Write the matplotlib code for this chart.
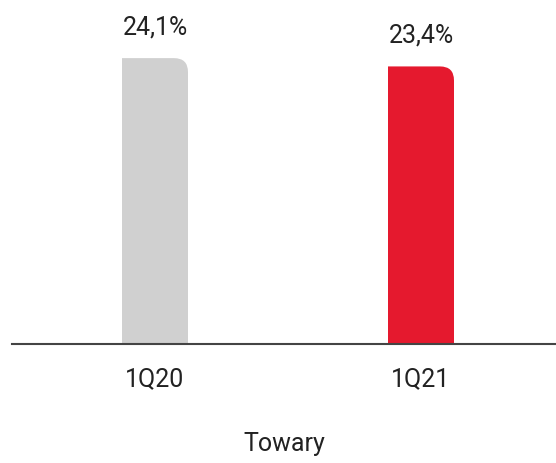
import matplotlib
matplotlib.use("Agg")
import matplotlib.pyplot as plt
from matplotlib.path import Path
from matplotlib.patches import PathPatch

categories = ["1Q20", "1Q21"]
values = [24.1, 23.4]
labels = ["24,1%", "23,4%"]
colors = ["#d0d0d0", "#e5192e"]
xlabel = "Towary"

plt.rcParams['font.family'] = ['Roboto', 'DejaVu Sans']

W, H = 556, 463
fig = plt.figure(figsize=(W/100, H/100), dpi=100)
ax = fig.add_axes([12/W, 119/H, 544/W, 344/H])

px_x = 266.0
ax.set_xlim(-143/px_x, (544-143)/px_x)
ax.set_ylim(0, 29)
px_y = 344/29

width = 66/px_x
r = 14
rx, ry = r/px_x, r/px_y
for i, (v, c) in enumerate(zip(values, colors)):
    x0, x1 = i - width/2, i + width/2
    verts = [(x0, 0), (x1, 0), (x1, v - ry), (x1, v), (x1 - rx, v), (x0, v), (x0, 0)]
    codes = [Path.MOVETO, Path.LINETO, Path.LINETO, Path.CURVE3, Path.CURVE3, Path.LINETO, Path.CLOSEPOLY]
    ax.add_patch(PathPatch(Path(verts, codes), facecolor=c, edgecolor='none'))
    ax.annotate(labels[i], (i, v), xytext=(0, 22), textcoords='offset points',
                ha='center', va='center', fontsize=18, color='#222222')

for s in ['top', 'right', 'left']:
    ax.spines[s].set_visible(False)
ax.spines['bottom'].set_color('#444444')
ax.spines['bottom'].set_linewidth(1.5)
ax.set_yticks([])
ax.set_xticks(range(len(categories)))
ax.set_xticklabels(categories, fontsize=18, color='#222222')
ax.tick_params(axis='x', length=0, pad=17)
ax.set_xlabel(xlabel, fontsize=18, color='#222222', labelpad=29)

fig.savefig("out.png", dpi=100)
